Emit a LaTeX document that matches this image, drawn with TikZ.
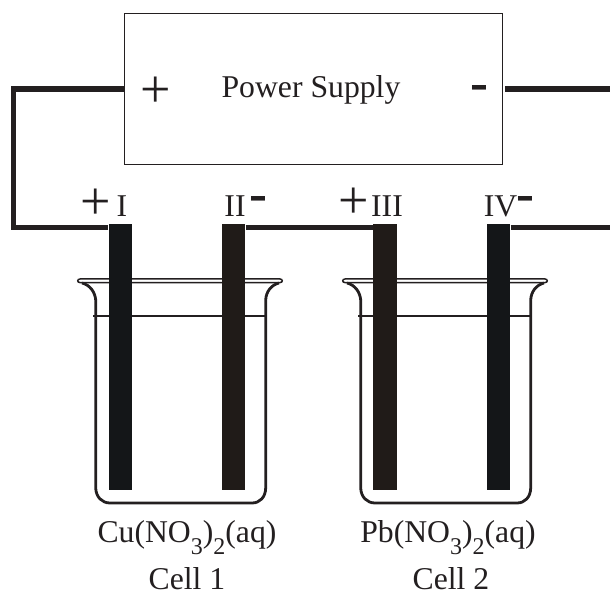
\documentclass[tikz,border=0pt]{standalone}
\usepackage{fontspec}
\setmainfont{Liberation Serif}
\usepackage{xcolor}
\definecolor{cink}{RGB}{35,31,32}
\definecolor{cblue}{RGB}{20,22,24}
\definecolor{cbrown}{RGB}{32,27,24}
\newcommand{\lbl}{\fontsize{31.7}{36}\selectfont}
\newcommand{\sgn}{\fontsize{54}{54}\selectfont}
\newcommand{\sub}[1]{\raisebox{-0.38em}{\fontsize{24}{24}\selectfont #1}}

\tikzset{
	electrode/.style={anchor=north, inner sep=0pt, minimum width=23.5pt, minimum height=266pt},
	wire/.style={draw=cink, line width=5.5pt, line join=miter},
	label/.style={anchor=base, inner sep=0pt, text=cink, font=\lbl},
	sign/.style={anchor=center, inner sep=0pt, text=cink, font=\sgn},
	wall/.style={draw=cink, line width=2.8pt},
	rim/.style={draw=cink, line width=1.5pt},
	level/.style={draw=cink, line width=1.6pt}
}

\begin{document}
\begin{tikzpicture}[x=1pt, y=-1pt]
		\draw[draw=none, use as bounding box] (0, 0) rectangle (610, 593);
		\clip (0, 0) rectangle (610, 593);

		% Beakers
		\draw[wall] (82, 283) .. controls (90, 285) and (95, 292) .. (95.7, 300) -- (95.7, 488) .. controls (96, 497) and (102, 503) .. (110, 503) -- (252, 503) .. controls (260, 503) and (265.5, 497) .. (265.7, 488) -- (265.7, 300) .. controls (266, 292) and (271, 285) .. (279, 283);
		\draw[rim] (80, 279) -- (280, 279) .. controls (283, 279) and (283, 282.6) .. (280, 282.6) -- (80, 282.6) .. controls (77, 282.6) and (77, 279) .. (80, 279);
		\draw[level] (93, 316) -- (266, 316);

		\draw[wall] (347, 283) .. controls (355, 285) and (360, 292) .. (360.7, 300) -- (360.7, 488) .. controls (361, 497) and (367, 503) .. (375, 503) -- (517, 503) .. controls (525, 503) and (530.5, 497) .. (530.7, 488) -- (530.7, 300) .. controls (531, 292) and (536, 285) .. (544, 283);
		\draw[rim] (345, 279) -- (545, 279) .. controls (548, 279) and (548, 282.6) .. (545, 282.6) -- (345, 282.6) .. controls (342, 282.6) and (342, 279) .. (345, 279);
		\draw[level] (358, 316) -- (531, 316);

		% Electrodes
		\node[electrode, fill=cblue] (elecI) at (120.3, 224) {};
		\node[electrode, fill=cbrown] (elecII) at (233.7, 224) {};
		\node[electrode, fill=cbrown] (elecIII) at (385.2, 224) {};
		\node[electrode, fill=cblue] (elecIV) at (498.7, 224) {};

		% Power supply
		\node[anchor=north west, draw=cink, line width=1.2pt, fill=white, minimum width=378pt, minimum height=151pt] (supply) at (124, 13) {};
		\node[label] (supplytext) at (311, 97.5) {Power Supply};

		% Wire ends
		\coordinate (topleft) at (13.5, 89);
		\coordinate (downleft) at (13.5, 227.5);
		\coordinate (topright) at (610, 89);
		\coordinate (downright) at (610, 227.5);

		% Wires
		\draw[wire] (supply.west |- topleft) -- (topleft) -- (downleft) -- ([yshift=-3.5pt]elecI.north west);
		\draw[wire] ([xshift=2pt]supply.east |- topright) -- (topright);
		\draw[wire] ([yshift=-3.5pt]elecII.north east) -- ([yshift=-3.5pt]elecIII.north west);
		\draw[wire] ([yshift=-3.5pt]elecIV.north east) -- (downright);

		% Signs
		\node[sign] (plussupply) at (156, 92) {+};
		\node[sign] (minussupply) at (479, 93) {\textbf{-}};
		\node[sign] (plusI) at (96, 204) {+};
		\node[sign] (minusII) at (258, 204) {\textbf{-}};
		\node[sign] (plusIII) at (353.5, 203) {+};
		\node[sign] (minusIV) at (525, 204) {\textbf{-}};

		% Electrode labels
		\node[label] (labelI) at (122, 217) {I};
		\node[label] (labelII) at (235, 217) {II};
		\node[label] (labelIII) at (387, 217) {III};
		\node[label] (labelIV) at (500.5, 217) {IV};

		% Solutions
		\node[label] (solutionone) at (187, 542) {Cu(NO\sub{3})\sub{2}(aq)};
		\node[label] (solutiontwo) at (448, 542) {Pb(NO\sub{3})\sub{2}(aq)};
		\node[label] (cellone) at (187, 589) {Cell 1};
		\node[label] (celltwo) at (451, 589) {Cell 2};
	\end{tikzpicture}
\end{document}
